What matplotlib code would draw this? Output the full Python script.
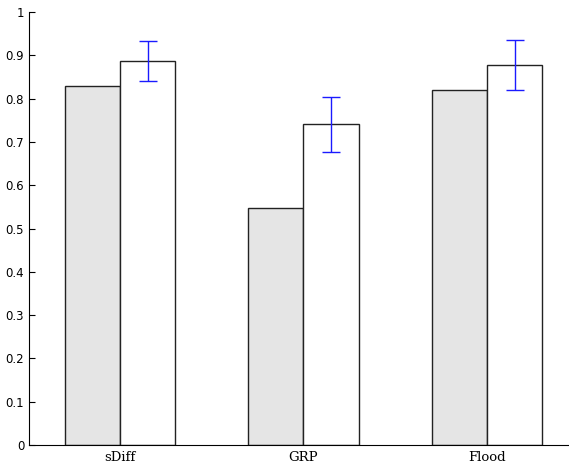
import numpy as np
import matplotlib.pyplot as plt

methods = ["sDiff", "GRP", "Flood"]
base_vals = [0.829, 0.547, 0.820]
ours_vals = [0.887, 0.741, 0.878]
err_low = [0.841, 0.677, 0.820]
err_high = [0.933, 0.804, 0.935]

x = np.arange(1, len(methods) + 1)
w = 0.3
ours = np.array(ours_vals)
yerr = [ours - np.array(err_low), np.array(err_high) - ours]

fig = plt.figure(figsize=(5.69, 4.66), dpi=100)
ax = fig.add_axes([29 / 569, 21 / 466, 540 / 569, 433 / 466])

ax.bar(x - w / 2, base_vals, w, color="#e5e5e5", edgecolor="#222222", linewidth=1.0)
ax.bar(x + w / 2, ours_vals, w, color="white", edgecolor="#222222", linewidth=1.0)
ax.errorbar(x + w / 2, ours_vals, yerr=yerr, fmt="none", ecolor="#1a1aff",
            elinewidth=1.0, capsize=6.5, capthick=1.0)

ax.set_xlim(0.504, 3.447)
ax.set_ylim(0, 1)
ax.set_yticks(np.arange(0, 1.01, 0.1))
ax.set_yticklabels(["0"] + [f"{v:.1f}" for v in np.arange(0.1, 0.95, 0.1)] + ["1"])
ax.set_xticks(x)
ax.set_xticklabels(methods, family="DejaVu Serif", fontsize=9.5)
ax.tick_params(axis="y", direction="in", length=4, labelsize=8.5)
ax.tick_params(axis="x", length=0, pad=4)
for s in ["top", "right"]:
    ax.spines[s].set_visible(False)

fig.savefig("out.png", dpi=100)
